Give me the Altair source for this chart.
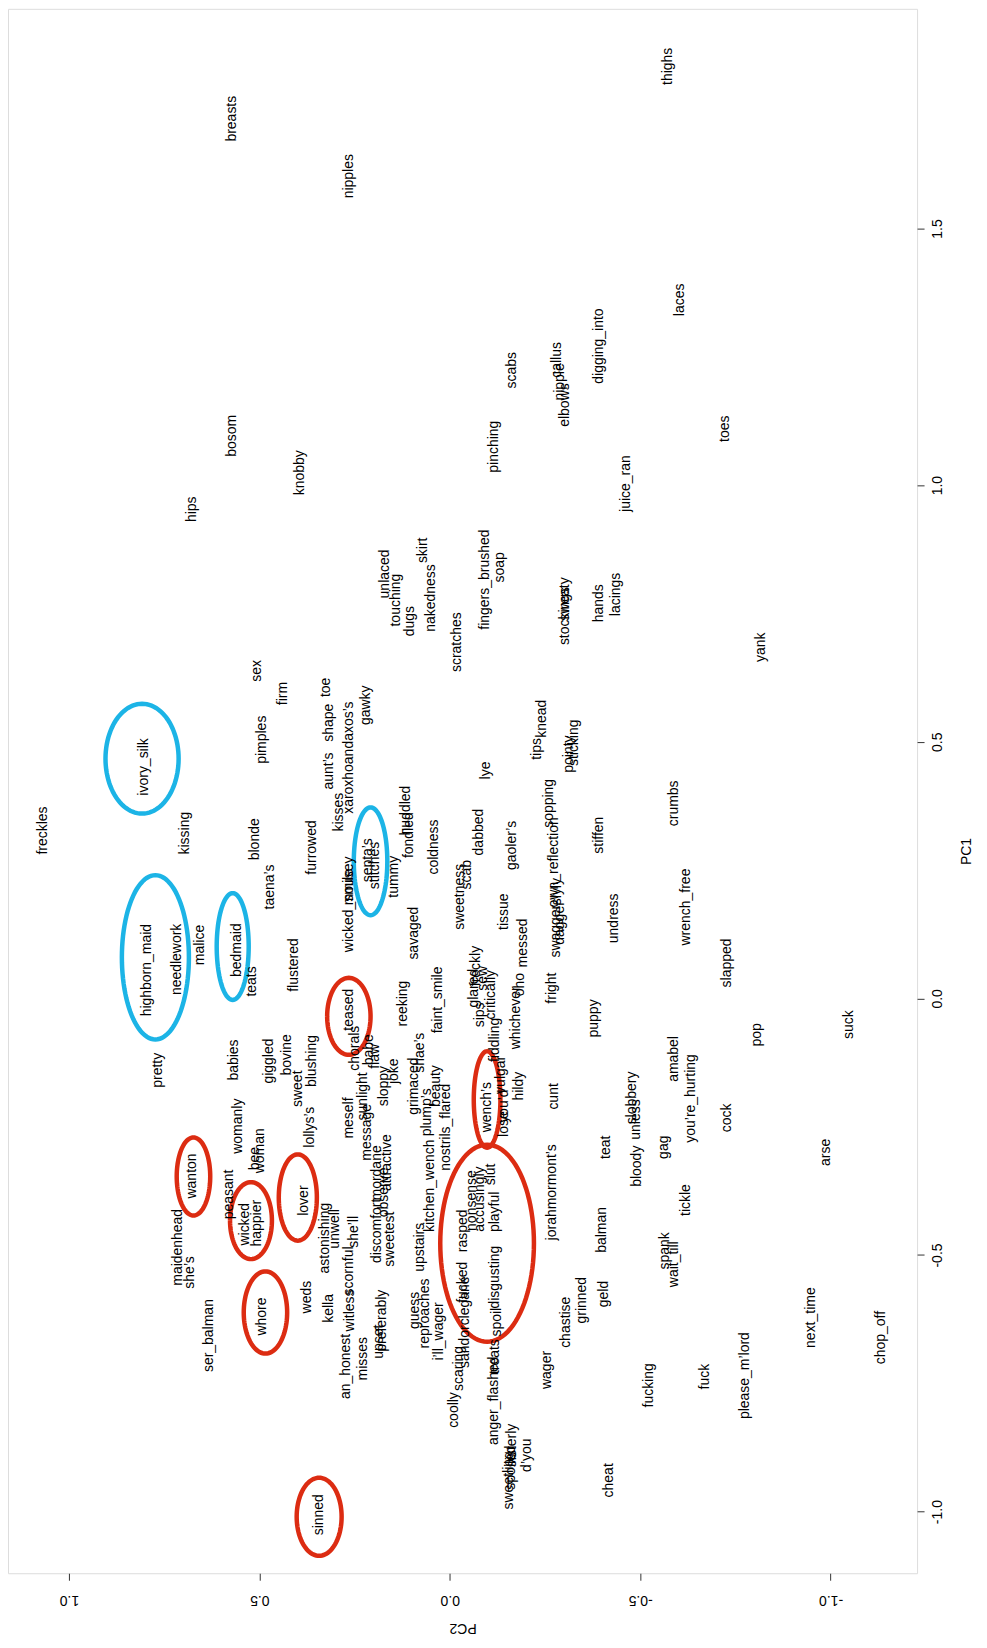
import altair as alt
import numpy as np
import pandas as pd

# ---- word labels and their PCA coordinates ----
words = [
    "thighs", "breasts", "nipples", "laces", "digging_into", "callus", "nipple", "elbows",
    "scabs", "pinching", "toes", "juice_ran", "soap", "fingers_brushed", "stockings", "sweaty",
    "hands", "lacings", "bosom", "knobby", "hips", "unlaced", "touching", "dugs",
    "skirt", "nakedness", "scratches", "yank", "sex", "firm", "pimples", "ivory_silk",
    "shape", "toe", "aunt’s", "xaroxhoandaxos’s", "gawky", "kisses", "kissing", "blonde",
    "taena’s", "furrowed", "huddled", "fondled", "coldness", "lye", "dabbed", "septa’s",
    "stitches", "wicked_smile", "mousey", "tummy", "sweetness", "scab", "gaoler’s", "sopping",
    "own_reflection", "dagger", "swagger", "slyly", "stiffen", "undress", "tissue", "messed",
    "savaged", "reeking", "faint_smile", "freckly", "glared", "sips", "sew", "critically",
    "whichever", "oho", "fright", "puppy", "teased", "highborn_maid", "needlework", "malice",
    "bedmaid", "teats", "flustered", "pretty", "babies", "giggled", "bovine", "blushing",
    "sweet", "lollys’s", "womanly", "woman", "bee", "meself", "chorals", "babe",
    "flaw", "sloppy", "joke", "sunlight", "message", "mordane", "discomfort", "attractive",
    "observe", "sweetest", "grimaced", "shae’s", "beauty", "plump’s", "kitchen_wench", "nostrils_flared",
    "upstairs", "wench’s", "lose", "you’d", "vulgar", "fiddling", "hildy", "cunt",
    "jorahmormont’s", "slut", "playful", "accusingly", "nonsense", "rasped", "disgusting", "spoil",
    "fucked", "sandorclegane", "guess", "reproaches", "i’ll_wager", "scaring", "coolly", "anger_flashed",
    "treats", "sisterly", "spoiled", "sweetling", "d’you", "sinned", "wager", "chastise",
    "grinned", "geld", "balman", "teat", "bloody", "unless", "slobbery", "gag",
    "amabel", "you’re_hurting", "cock", "pop", "suck", "arse", "tickle", "spank",
    "wait_till", "next_time", "chop_off", "fucking", "fuck", "please_m’lord", "cheat", "slapped",
    "wrench_free", "crumbs", "tips", "knead", "pointy", "sticking", "freckles", "wanton",
    "maidenhead", "she’s", "peasant", "wicked", "happier", "lover", "astonishing", "unwell",
    "she’ll", "scornful", "witless", "weds", "kella", "whore", "ser_balman", "an_honest",
    "misses", "preferably", "upset",
]

pc2 = [
    -0.572, 0.572, 0.265, -0.605, -0.392, -0.282, -0.290, -0.302,
    -0.164, -0.116, -0.723, -0.462, -0.133, -0.093, -0.302, -0.302,
    -0.392, -0.436, 0.572, 0.392, 0.677, 0.169, 0.141, 0.105,
    0.069, 0.050, -0.019, -0.818, 0.507, 0.439, 0.494, 0.804,
    0.318, 0.326, 0.318, 0.265, 0.221, 0.290, 0.696, 0.511,
    0.471, 0.362, 0.116, 0.108, 0.041, -0.094, -0.077, 0.215,
    0.196, 0.265, 0.265, 0.146, -0.028, -0.044, -0.163, -0.260,
    -0.273, -0.290, -0.279, -0.282, -0.392, -0.431, -0.142, -0.191,
    0.094, 0.122, 0.030, -0.068, -0.064, -0.080, -0.088, -0.107,
    -0.173, -0.185, -0.268, -0.378, 0.265, 0.796, 0.717, 0.655,
    0.559, 0.519, 0.410, 0.765, 0.567, 0.475, 0.428, 0.362,
    0.398, 0.366, 0.555, 0.497, 0.511, 0.265, 0.248, 0.213,
    0.196, 0.174, 0.146, 0.227, 0.218, 0.191, 0.191, 0.166,
    0.174, 0.156, 0.094, 0.077, 0.037, 0.061, 0.051, 0.011,
    0.077, -0.098, -0.142, -0.142, -0.134, -0.120, -0.181, -0.273,
    -0.268, -0.107, -0.120, -0.080, -0.058, -0.036, -0.120, -0.124,
    -0.036, -0.041, 0.091, 0.064, 0.029, -0.024, -0.011, -0.116,
    -0.120, -0.163, -0.160, -0.155, -0.202, 0.344, -0.256, -0.304,
    -0.348, -0.405, -0.401, -0.409, -0.492, -0.489, -0.478, -0.563,
    -0.588, -0.633, -0.729, -0.807, -1.049, -0.988, -0.619, -0.566,
    -0.588, -0.948, -1.133, -0.522, -0.671, -0.776, -0.417, -0.729,
    -0.619, -0.588, -0.229, -0.242, -0.312, -0.326, 1.069, 0.677,
    0.713, 0.682, 0.580, 0.537, 0.507, 0.384, 0.327, 0.301,
    0.252, 0.265, 0.261, 0.376, 0.318, 0.493, 0.633, 0.273,
    0.227, 0.178, 0.186,
]

pc1 = [
    1.816, 1.714, 1.602, 1.361, 1.271, 1.244, 1.201, 1.156,
    1.224, 1.075, 1.110, 1.003, 0.840, 0.816, 0.745, 0.778,
    0.770, 0.787, 1.096, 1.024, 0.953, 0.827, 0.776, 0.735,
    0.873, 0.780, 0.694, 0.684, 0.638, 0.594, 0.504, 0.451,
    0.537, 0.606, 0.443, 0.469, 0.571, 0.363, 0.322, 0.310,
    0.217, 0.294, 0.366, 0.318, 0.295, 0.444, 0.324, 0.269,
    0.259, 0.171, 0.229, 0.237, 0.198, 0.241, 0.298, 0.380,
    0.265, 0.147, 0.131, 0.208, 0.318, 0.156, 0.169, 0.108,
    0.127, -0.010, -0.003, 0.063, 0.020, -0.032, 0.039, 0.007,
    -0.038, 0.027, 0.020, -0.039, -0.022, 0.055, 0.076, 0.104,
    0.094, 0.033, 0.065, -0.140, -0.120, -0.122, -0.110, -0.122,
    -0.176, -0.251, -0.249, -0.297, -0.312, -0.233, -0.097, -0.100,
    -0.113, -0.171, -0.142, -0.191, -0.261, -0.340, -0.453, -0.320,
    -0.378, -0.469, -0.171, -0.106, -0.171, -0.222, -0.365, -0.251,
    -0.485, -0.212, -0.245, -0.210, -0.149, -0.081, -0.171, -0.191,
    -0.378, -0.343, -0.416, -0.391, -0.394, -0.453, -0.543, -0.631,
    -0.553, -0.631, -0.608, -0.614, -0.649, -0.721, -0.802, -0.784,
    -0.698, -0.871, -0.914, -0.939, -0.890, -1.006, -0.724, -0.631,
    -0.588, -0.576, -0.451, -0.290, -0.327, -0.236, -0.194, -0.290,
    -0.118, -0.195, -0.233, -0.071, -0.051, -0.300, -0.393, -0.492,
    -0.518, -0.622, -0.661, -0.754, -0.737, -0.735, -0.939, 0.069,
    0.178, 0.380, 0.486, 0.545, 0.476, 0.498, 0.327, -0.346,
    -0.485, -0.534, -0.382, -0.440, -0.438, -0.394, -0.467, -0.449,
    -0.455, -0.531, -0.608, -0.582, -0.604, -0.620, -0.657, -0.717,
    -0.702, -0.628, -0.669,
]

assert len(words) == len(pc1) == len(pc2)

# ---- highlight ellipses: centre (PC2, PC1), half-widths, colour ----
ell_pc2 = [0.808, 0.773, 0.570, 0.208, 0.265, -0.098, -0.098, 0.673, 0.522, 0.399, 0.484, 0.343]
ell_pc1 = [0.467, 0.080, 0.101, 0.267, -0.035, -0.197, -0.477, -0.347, -0.433, -0.388, -0.612, -1.010]
ell_a = [0.096, 0.088, 0.042, 0.044, 0.057, 0.035, 0.123, 0.044, 0.055, 0.050, 0.057, 0.059]
ell_b = [0.107, 0.160, 0.104, 0.105, 0.075, 0.094, 0.192, 0.076, 0.075, 0.084, 0.080, 0.076]
ell_col = ["#1cb4e6"] * 4 + ["#dc2c12"] * 8

# ---- axis ticks ----
pc1_ticks = [-1.0, -0.5, 0.0, 0.5, 1.0, 1.5]
pc2_ticks = [-1.0, -0.5, 0.0, 0.5, 1.0]

df = pd.DataFrame({"word": words, "pc1": pc1, "pc2": pc2})

t = np.linspace(0, 2 * np.pi, 97)
rows = []
for k in range(len(ell_pc2)):
    for i, tt in enumerate(t):
        rows.append({
            "eid": k, "i": i,
            "pc2": ell_pc2[k] + ell_a[k] * np.cos(tt),
            "pc1": ell_pc1[k] + ell_b[k] * np.sin(tt),
            "col": ell_col[k],
        })
edf = pd.DataFrame(rows)

FONT = "Liberation Sans"
W, H = 910, 1566
LABEL = "datum.value < 0 ? '-' + format(-datum.value, '.1f') : format(datum.value, '.1f')"

xscale = alt.Scale(domain=[-1.227, 1.160], reverse=True, nice=False, zero=False)
yscale = alt.Scale(domain=[-1.120, 1.928], nice=False, zero=False)

xaxis = alt.Axis(
    orient="bottom", values=pc2_ticks, labelExpr=LABEL, title="PC2",
    labelAngle=180, labelAlign="center", labelBaseline="middle", labelPadding=19,
    labelFont=FONT, labelFontSize=14, labelColor="#000", labelOverlap=False,
    tickSize=7, tickColor="#333", domain=False, grid=False,
    titleAngle=180, titleBaseline="middle", titleY=54, titleFont=FONT,
    titleFontSize=14, titleFontWeight="normal", titleColor="#000",
)
yaxis = alt.Axis(
    orient="right", values=pc1_ticks, labelExpr=LABEL, title="PC1",
    labelAngle=270, labelAlign="center", labelBaseline="middle", labelPadding=13,
    labelFont=FONT, labelFontSize=14, labelColor="#000", labelOverlap=False,
    tickSize=7, tickColor="#333", domain=False, grid=False,
    titleAngle=270, titleBaseline="middle", titleX=49, titleY=843, titleFont=FONT,
    titleFontSize=14, titleFontWeight="normal", titleColor="#000",
)

ellipses = alt.Chart(edf).mark_line(strokeWidth=4.5).encode(
    x=alt.X("pc2:Q", scale=xscale, axis=xaxis),
    y=alt.Y("pc1:Q", scale=yscale, axis=yaxis),
    color=alt.Color("col:N", scale=None),
    detail="eid:N",
    order="i:Q",
)

labels = alt.Chart(df).mark_text(
    angle=270, font=FONT, fontSize=14, color="#000", align="center", baseline="middle"
).encode(
    x=alt.X("pc2:Q", scale=xscale, axis=xaxis),
    y=alt.Y("pc1:Q", scale=yscale, axis=yaxis),
    text="word:N",
)

chart = alt.layer(ellipses, labels).properties(
    width=W, height=H,
    autosize=alt.AutoSizeParams(type="none"),
    padding={"left": 0, "top": 0, "right": 62, "bottom": 66},
).configure_view(stroke="#333", strokeWidth=1).configure(background="white")

chart.save("out.html", embed_options={"renderer": "svg", "actions": False})
